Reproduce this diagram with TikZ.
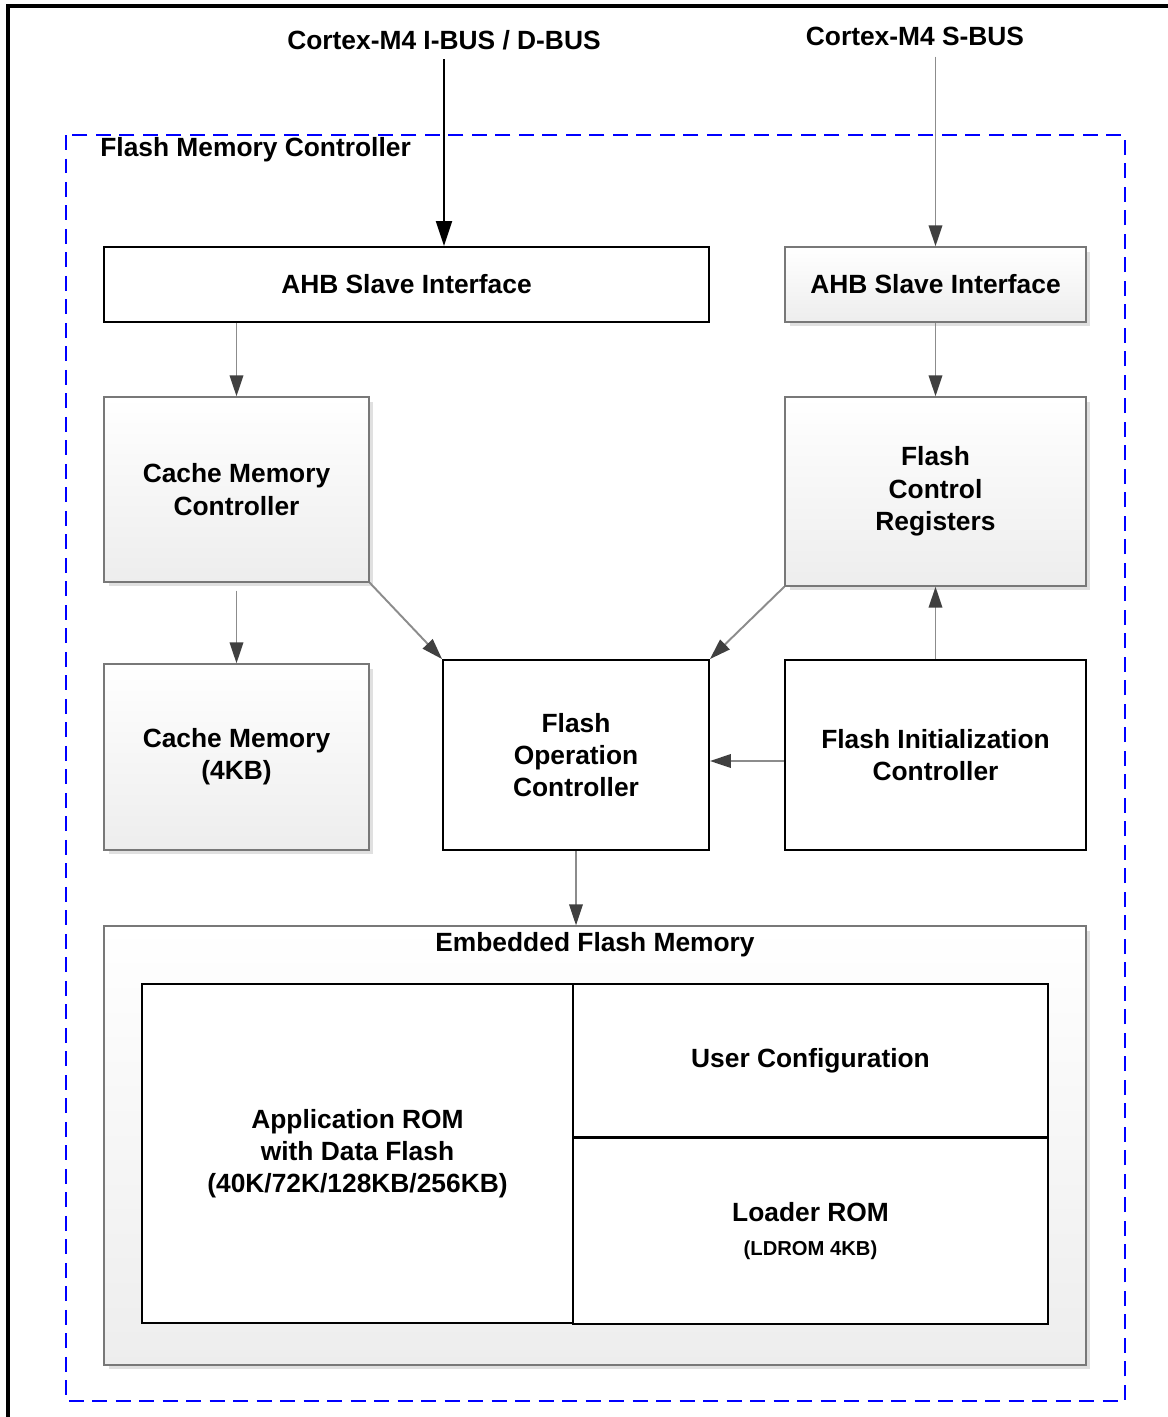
\documentclass[tikz,border=0pt]{standalone}
\usepackage{fontspec}
\setmainfont{Liberation Sans}
\usetikzlibrary{arrows.meta, positioning, shadows}
\definecolor{FrameBlue}{RGB}{0, 0, 255}
\definecolor{LineGray}{RGB}{140, 140, 140}
\definecolor{HeadGray}{RGB}{64, 64, 64}
\definecolor{EdgeGray}{RGB}{120, 120, 120}

\begin{document}
\begin{tikzpicture}[
    x=0.02cm, y=-0.02cm,
    txt/.style={font=\bfseries\fontsize{15}{18.4}\selectfont, align=center, inner sep=0pt},
    wbox/.style={txt, draw=black, line width=1.1pt, fill=white, rectangle},
    gbox/.style={txt, draw=EdgeGray, line width=0.8pt, rectangle, top color=white, bottom color=black!7,
        drop shadow={shadow xshift=0.09cm, shadow yshift=-0.09cm, fill=black!12, opacity=1}},
    arrow/.style={-{Triangle[length=0.42cm, width=0.27cm, color=HeadGray]}, line width=1.1pt, color=LineGray},
    busarrow/.style={-{Triangle[length=0.5cm, width=0.32cm]}, line width=1.2pt, color=black}
]
\clip (0,0) rectangle (1168,1417);
% outer frame and controller boundary
\draw[line width=2pt] (8,1440) -- (8,6) -- (1190,6);
\draw[FrameBlue, line width=1.1pt, dash pattern=on 0.3cm off 0.17cm] (66,135) rectangle (1125,1401);
\node[txt, anchor=west] (fmct) at (100,150) {Flash Memory Controller};

% bus labels
\node[txt] (ibus) at (444,40) {Cortex-M4 I-BUS / D-BUS};
\node[txt] (sbus) at (915,36) {Cortex-M4 S-BUS};

% blocks
\node[wbox, minimum width=12.1cm, minimum height=1.5cm] (ahbA) at (406.5,284.5) {AHB Slave Interface};
\node[gbox, minimum width=6.02cm, minimum height=1.5cm] (ahbB) at (935.5,284.5) {AHB Slave Interface};
\node[gbox, minimum width=5.3cm, minimum height=3.7cm] (cmc) at (236.5,489.5) {Cache Memory\\Controller};
\node[gbox, minimum width=6.02cm, minimum height=3.78cm] (fcr) at (935.5,491.5) {Flash\\Control\\Registers};
\node[gbox, minimum width=5.3cm, minimum height=3.72cm] (cm) at (236.5,757) {Cache Memory\\(4KB)};
\node[wbox, minimum width=5.32cm, minimum height=3.8cm] (foc) at (576,755) {Flash\\Operation\\Controller};
\node[wbox, minimum width=6.02cm, minimum height=3.8cm] (fic) at (935.5,755) {Flash Initialization\\Controller};

% embedded flash
\node[gbox, minimum width=19.64cm, minimum height=8.78cm] (efm) at (595,1145.5) {};
\node[txt, below=0.14cm of efm.north] (efmt) {Embedded Flash Memory};
\node[wbox, minimum width=8.62cm, minimum height=6.78cm] (app) at (357.5,1153.5) {Application ROM\\with Data Flash\\(40K/72K/128KB/256KB)};
\node[wbox, minimum width=9.5cm, minimum height=3.06cm] (ucfg) at (810.5,1060.5) {User Configuration};
\node[wbox, minimum width=9.5cm, minimum height=3.72cm] (ldr) at (810.5,1231) {Loader ROM\\[1pt]{\fontsize{11.5}{13}\selectfont (LDROM 4KB)}};

% connectors
\draw[busarrow] ([yshift=-0.18cm]ibus.south) -- (ibus.south |- ahbA.north);
\draw[arrow] ([yshift=-0.22cm]ahbB.north |- sbus.south) -- (ahbB.north);
\draw[arrow] (cmc.north |- ahbA.south) -- (cmc.north);
\draw[arrow] (ahbB) -- (fcr);
\draw[arrow, shorten <=0.16cm] (cmc.south) -- (cm.north);
\draw[arrow] (cmc.south east) -- (foc.north west);
\draw[arrow] (fcr.south west) -- (foc.north east);
\draw[arrow] ([yshift=-0.12cm]fic.west) -- ([yshift=-0.12cm]foc.east);
\draw[arrow] (fic.north) -- (fcr.south);
\draw[arrow] (foc.south) -- (foc.south |- efm.north);
\end{tikzpicture}
\end{document}
